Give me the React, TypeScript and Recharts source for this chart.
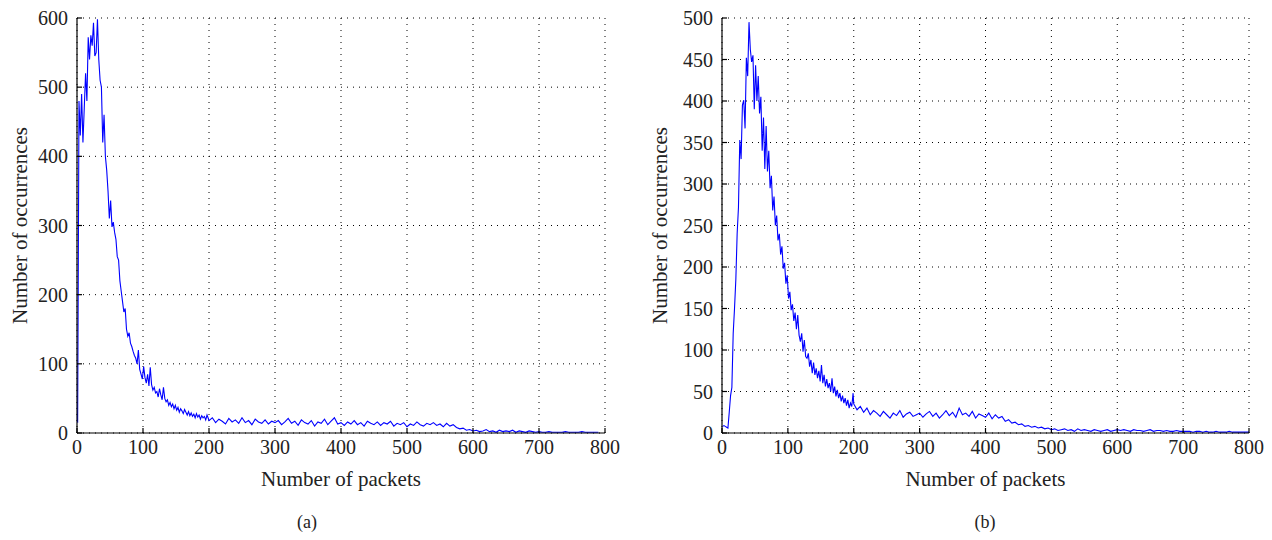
import { LineChart, Line, XAxis, YAxis, CartesianGrid } from "recharts";

// packets 1,3,5,...,199 (step 2), then 200,205,...,800 (step 5)
const HEAD_A = [
    15, 480, 430, 490, 420, 470, 520, 480, 572, 540,
    575, 560, 593, 545, 550, 598, 540, 510, 500, 420,
    460, 400, 380, 350, 310, 336, 298, 305, 290, 280,
    255, 250, 220, 205, 190, 175, 180, 150, 140, 145,
    130, 125, 118, 112, 108, 100, 120, 92, 85, 78,
    96, 80, 72, 85, 68, 95, 70, 62, 66, 58,
    60, 52, 64, 55, 48, 66, 50, 45, 48, 40,
    44, 38, 42, 35, 40, 33, 37, 30, 35, 32,
    28, 34, 30, 26, 31, 25, 29, 24, 27, 22,
    28, 23, 26, 20, 25, 22, 24, 19, 26, 21,
];
const TAIL_A = [
    18, 22, 15, 20, 17, 13, 21, 16, 19, 14, 22, 15, 18, 12, 20, 16, 14, 19, 13, 17, 15,
    18, 12, 16, 21, 14, 17, 11, 19, 15, 13, 18, 10, 16, 14, 20, 12, 17, 22, 13, 15,
    11, 16, 13, 18, 12, 15, 10, 17, 14, 12, 16, 11, 15, 13, 17, 10, 14, 12, 15, 9,
    13, 11, 16, 12, 10, 14, 12, 15, 11, 13, 9, 14, 10, 12, 8, 6, 7, 4, 5, 3,
    4, 2, 3, 5, 2, 3, 1, 4, 2, 3, 2, 4, 1, 3, 2, 1, 3, 2, 1, 2,
    1, 1, 2, 1, 1, 1, 1, 2, 1, 1, 1, 1, 2, 1, 1, 1, 1, 1,
];

const HEAD_B = [
    8, 9, 8, 7, 6, 25, 45, 55, 120, 150,
    185, 240, 272, 353, 330, 395, 401, 367, 452, 430,
    495, 462, 447, 455, 390, 443, 400, 430, 385, 405,
    340, 380, 318, 370, 315, 340, 295, 310, 268, 285,
    250, 262, 232, 240, 215, 225, 198, 205, 180, 190,
    162, 170, 148, 155, 135, 145, 125, 142, 118, 110,
    120, 98, 112, 92, 90, 96, 80, 88, 72, 85,
    70, 78, 66, 75, 62, 82, 60, 70, 56, 65,
    54, 60, 50, 66, 48, 56, 44, 52, 42, 48,
    38, 45, 36, 42, 33, 40, 30, 36, 32, 48,
];
const TAIL_B = [
    35, 28, 32, 25, 30, 22, 27, 24, 20, 26, 22, 18, 24, 21, 27, 19, 23, 25, 20, 22, 24,
    19, 23, 26, 20, 24, 18, 22, 27, 21, 25, 19, 30, 22, 24, 20, 26, 18, 23, 21, 19,
    24, 17, 22, 18, 20, 14, 16, 12, 13, 10, 11, 8, 9, 7, 8, 6, 7, 5, 6, 4,
    5, 3, 4, 5, 3, 4, 2, 5, 3, 4, 3, 2, 4, 3, 2, 3, 4, 2, 3, 4,
    3, 4, 3, 2, 4, 3, 3, 2, 3, 4, 2, 3, 3, 2, 3, 2, 2, 3, 2, 2,
    2, 2, 1, 2, 2, 1, 2, 1, 1, 2, 1, 1, 1, 2, 1, 1, 1, 1, 1, 1,
];

const X_TICKS = [0, 100, 200, 300, 400, 500, 600, 700, 800];
const Y_TICKS_A = [0, 100, 200, 300, 400, 500, 600];
const Y_TICKS_B = [0, 50, 100, 150, 200, 250, 300, 350, 400, 450, 500];

const FONT = "'Liberation Serif', 'DejaVu Serif', serif";
const TEXT = "#222";

function buildRows(head: number[], tail: number[]) {
    const rows = head.map((v, i) => ({ packets: 1 + i * 2, count: v }));
    tail.forEach((v, i) => rows.push({ packets: 200 + i * 5, count: v }));
    return rows;
}

interface PanelProps {
    rows: { packets: number; count: number }[];
    yTicks: number[];
    yMax: number;
    yAxisWidth: number;
    left: number;
    width: number;
    caption: string;
    captionX: number;
}

function Panel({ rows, yTicks, yMax, yAxisWidth, left, width, caption, captionX }: PanelProps) {
    const tickStyle = { fontSize: 20, fill: TEXT, fontFamily: FONT };
    const titleStyle = { fontSize: 21, fill: TEXT, fontFamily: FONT, textAnchor: "middle" as const };
    const blank = () => "";
    return (
        <div style={{ position: "absolute", left, top: 0, width, height: 540 }}>
            <LineChart width={width} height={540} data={rows}
                margin={{ top: 18, right: 15, left: 0, bottom: 52 }}>
                <CartesianGrid stroke="#000" strokeDasharray="1 5" xAxisId="bottom" yAxisId="left" />
                <XAxis xAxisId="bottom" dataKey="packets" type="number" domain={[0, 800]}
                    ticks={X_TICKS} tickSize={-5} tickMargin={12} height={55}
                    stroke="#000" strokeWidth={1.2} tick={tickStyle} interval={0} allowDataOverflow
                    label={{ value: "Number of packets", position: "insideBottom", offset: 2, style: titleStyle }} />
                <XAxis xAxisId="top" orientation="top" type="number" domain={[0, 800]}
                    ticks={X_TICKS} tickSize={-5} height={0} stroke="#000" strokeWidth={1.2}
                    tickFormatter={blank} interval={0} />
                <YAxis yAxisId="left" type="number" domain={[0, yMax]} ticks={yTicks}
                    tickSize={-5} tickMargin={14} width={yAxisWidth} stroke="#000" strokeWidth={1.2}
                    tick={tickStyle} interval={0} allowDataOverflow
                    label={{ value: "Number of occurrences", angle: -90, position: "center",
                        dx: 20 - yAxisWidth / 2, style: titleStyle }} />
                <YAxis yAxisId="right" orientation="right" type="number" domain={[0, yMax]}
                    ticks={yTicks} tickSize={-5} width={0} stroke="#000" strokeWidth={1.2}
                    tickFormatter={blank} interval={0} />
                <Line xAxisId="bottom" yAxisId="left" dataKey="count" stroke="#0000ff"
                    strokeWidth={1.1} dot={false} type="linear" isAnimationActive={false} />
            </LineChart>
            <div style={{ position: "absolute", top: 512, left: captionX - 40, width: 80,
                textAlign: "center", fontFamily: FONT, fontSize: 18, color: TEXT }}>
                {caption}
            </div>
        </div>
    );
}

export default function App() {
    const rowsA = buildRows(HEAD_A, TAIL_A);
    const rowsB = buildRows(HEAD_B, TAIL_B);
    return (
        <div style={{ position: "absolute", left: 0, top: 0, width: 1272, height: 540, background: "#fff" }}>
            <Panel rows={rowsA} yTicks={Y_TICKS_A} yMax={600} yAxisWidth={77}
                left={0} width={620} caption="(a)" captionX={307} />
            <Panel rows={rowsB} yTicks={Y_TICKS_B} yMax={500} yAxisWidth={82}
                left={640} width={624} caption="(b)" captionX={345} />
        </div>
    );
}
